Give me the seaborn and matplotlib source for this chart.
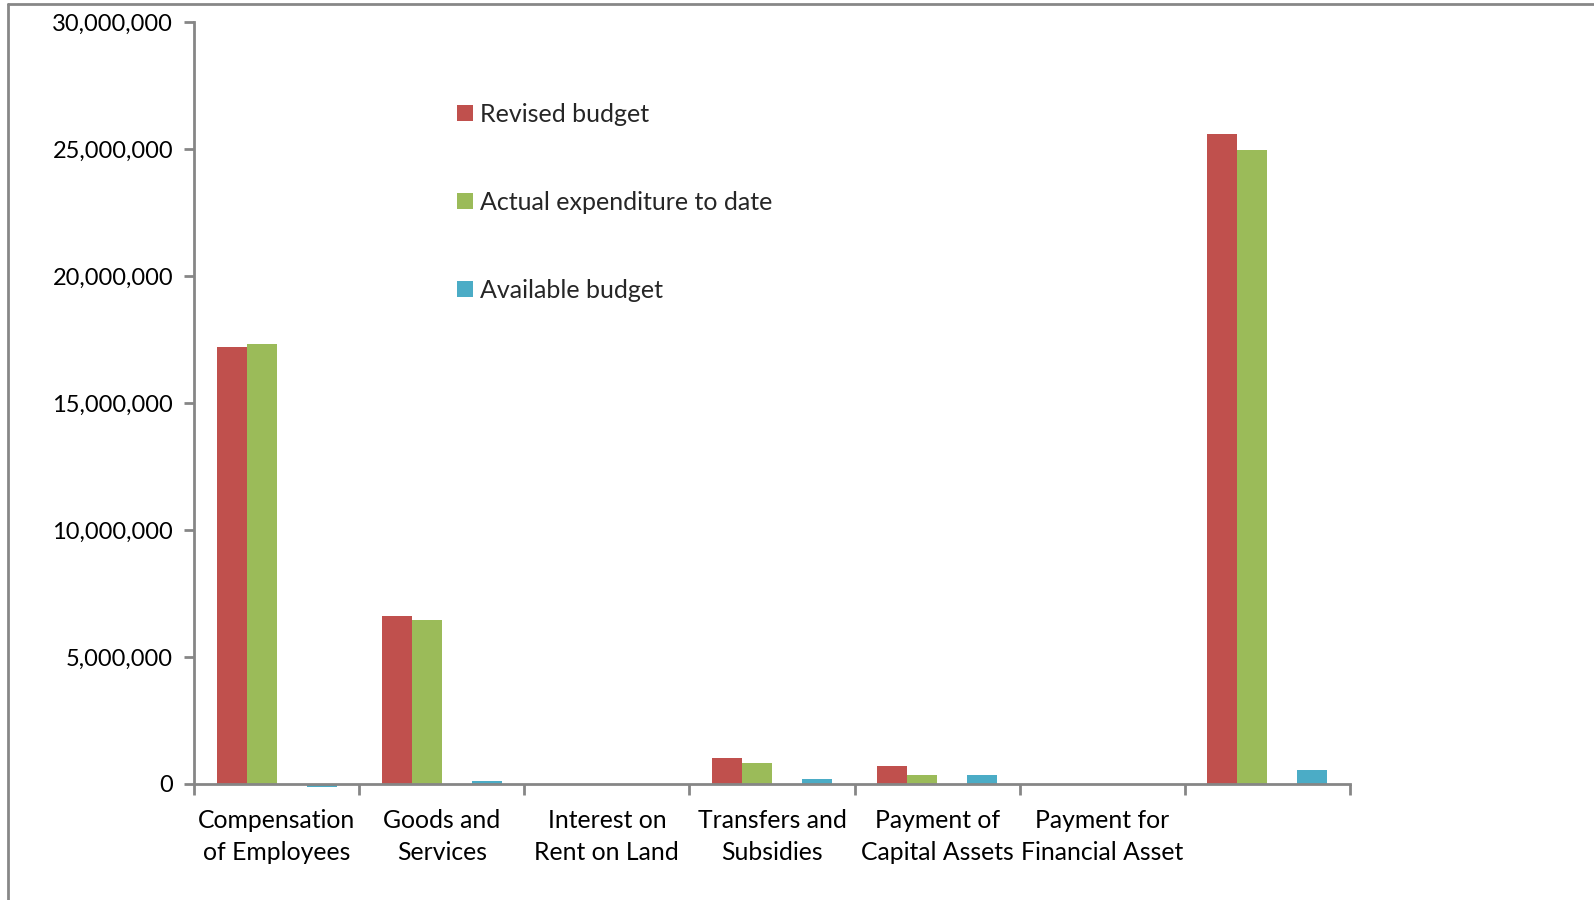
import matplotlib
matplotlib.use("Agg")
import matplotlib.pyplot as plt
from matplotlib.lines import Line2D
from matplotlib.patches import Patch
from matplotlib.ticker import FuncFormatter, FixedLocator
import seaborn as sns
import pandas as pd

# Expenditure by economic classification
categories = [
    "Compensation of Employees",
    "Goods and Services",
    "Interest on Rent on Land",
    "Transfers and Subsidies",
    "Payment of Capital Assets",
    "Payment for Financial Asset",
    "Total",
]
tick_labels = [
    "Compensation\nof Employees",
    "Goods and\nServices",
    "Interest on\nRent on Land",
    "Transfers and\nSubsidies",
    "Payment of\nCapital Assets",
    "Payment for\nFinancial Asset",
    "",
]
revised_budget = [17_200_000, 6_600_000, 0, 1_020_000, 710_000, 0, 25_590_000]
actual_expenditure = [17_330_000, 6_470_000, 0, 830_000, 340_000, 0, 24_970_000]
spare_series = [0, 0, 0, 0, 0, 0, 0]
available_budget = [-130_000, 130_000, 0, 190_000, 370_000, 0, 560_000]

series_names = ["Revised budget", "Actual expenditure to date", "Spare", "Available budget"]
series_colors = ["#C0504D", "#9BBB59", "#8064A2", "#4BACC6"]

rows = []
for name, vals in zip(series_names,
                      [revised_budget, actual_expenditure, spare_series, available_budget]):
    for cat, v in zip(categories, vals):
        rows.append({"category": cat, "series": name, "value": v})
df = pd.DataFrame(rows)

sns.set_theme(style="white")
plt.rcParams["font.family"] = ["Lato", "DejaVu Sans"]

fig = plt.figure(figsize=(15.94, 9.0), dpi=100)
ax = fig.add_axes([194 / 1594, 1 - 784 / 900, (1350 - 194) / 1594, (784 - 22) / 900])

sns.barplot(
    data=df, x="category", y="value", hue="series",
    order=categories, hue_order=series_names,
    palette=dict(zip(series_names, series_colors)), saturation=1,
    width=4 / 5.5, linewidth=0, errorbar=None, legend=False, ax=ax,
)
for p in ax.patches:
    p.set_clip_on(False)

ax.set_xlim(-0.5, len(categories) - 0.5)
ax.set_ylim(0, 30_000_000)
ax.set_yticks(range(0, 30_000_001, 5_000_000))
ax.yaxis.set_major_formatter(FuncFormatter(lambda v, _: f"{int(v):,}"))
ax.set_xlabel("")
ax.set_ylabel("")

# category boundaries carry the tick marks, labels sit at the centres
ax.xaxis.set_major_locator(FixedLocator([i - 0.5 for i in range(len(categories) + 1)]))
ax.xaxis.set_minor_locator(FixedLocator(list(range(len(categories)))))
ax.set_xticklabels([""] * (len(categories) + 1))
ax.set_xticklabels(tick_labels, minor=True)
ax.tick_params(axis="x", which="major", length=8, width=2, color="#868686", direction="out", bottom=True)
ax.tick_params(axis="x", which="minor", length=0, pad=18, labelsize=17.8, labelcolor="#000000")
ax.tick_params(axis="y", length=7, width=2, color="#868686", direction="out", left=True,
               labelsize=17, labelcolor="#000000", pad=8)
for lab in ax.get_xticklabels(minor=True):
    lab.set_linespacing(1.5)

for side in ["top", "right"]:
    ax.spines[side].set_visible(False)
for side in ["left", "bottom"]:
    ax.spines[side].set_color("#868686")
    ax.spines[side].set_linewidth(2)
    ax.spines[side].set_zorder(5)

handles = [Patch(facecolor=c, edgecolor="none", label=n)
           for n, c in zip(series_names, series_colors) if n != "Spare"]
ax.legend(handles=handles, loc="upper left", bbox_to_anchor=((447 - 194) / (1350 - 194), (784 - 93) / 762),
          frameon=False, fontsize=18, handlelength=0.62, handleheight=0.62, handletextpad=0.3,
          labelspacing=2.6, borderaxespad=0)

# outer chart-area frame
frame_color = "#878787"
fig.add_artist(Line2D([8 / 1594, 8 / 1594], [0, 1 - 4 / 900], color=frame_color, lw=2,
                      transform=fig.transFigure))
fig.add_artist(Line2D([8 / 1594, 1], [1 - 4 / 900, 1 - 4 / 900], color=frame_color, lw=2,
                      transform=fig.transFigure))

fig.savefig("out.png", dpi=100, facecolor="white")
